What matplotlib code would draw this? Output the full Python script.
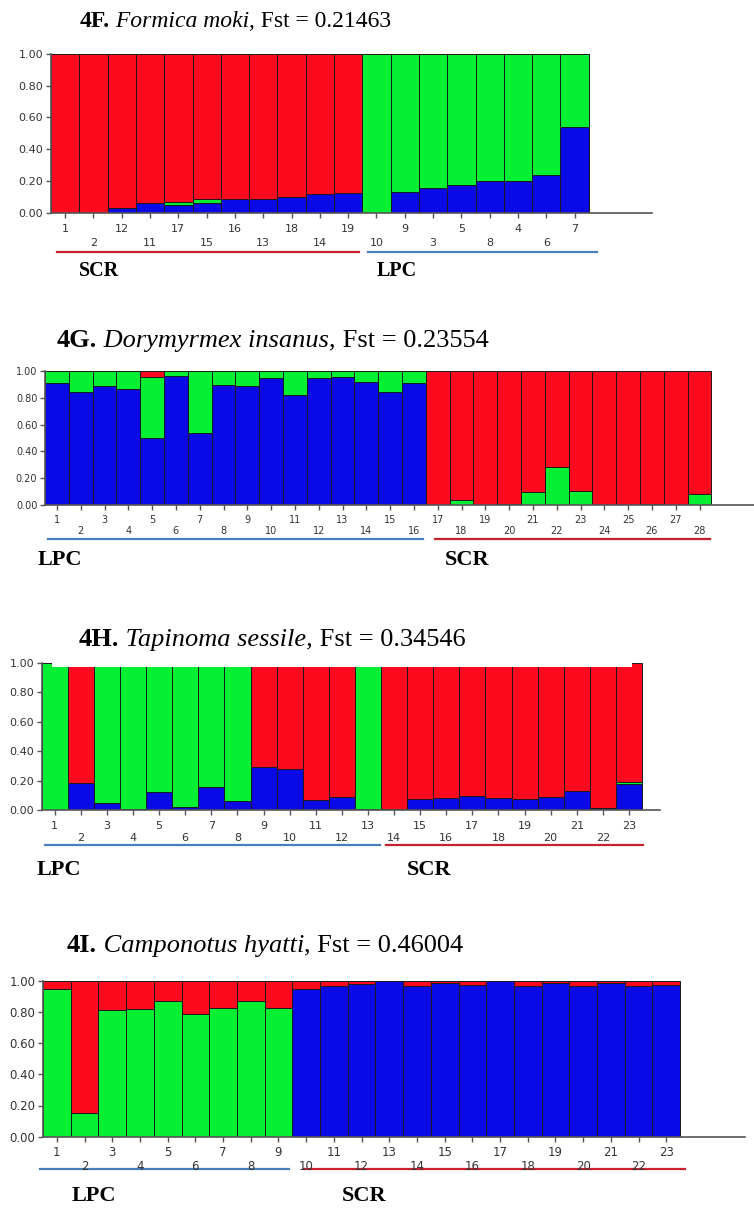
import matplotlib
matplotlib.use("Agg")
import matplotlib.pyplot as plt
from matplotlib import font_manager
from matplotlib.patches import Rectangle
from matplotlib.transforms import blended_transform_factory

# ---------------------------------------------------------------------------
# Data (membership proportions per individual)
# ---------------------------------------------------------------------------

f_ids = ["1", "2", "12", "11", "17", "15", "16", "13", "18", "14", "19",
         "10", "9", "3", "5", "8", "4", "6", "7"]
f_blue = [0, 0, 0.027, 0.058, 0.048, 0.062, 0.084, 0.088, 0.10, 0.12, 0.126,
          0, 0.129, 0.158, 0.175, 0.20, 0.20, 0.238, 0.54]
f_green = [0, 0, 0, 0, 0.017, 0.022, 0, 0, 0, 0, 0,
           1.0, 0.871, 0.842, 0.825, 0.80, 0.80, 0.762, 0.46]
f_red = [1.0, 1.0, 0.973, 0.942, 0.935, 0.916, 0.916, 0.912, 0.90, 0.88, 0.874,
         0, 0, 0, 0, 0, 0, 0, 0]

g_ids = [str(i) for i in range(1, 29)]
g_blue = [0.913, 0.846, 0.888, 0.863, 0.498, 0.963, 0.535, 0.896, 0.89, 0.945,
          0.82, 0.95, 0.953, 0.92, 0.84, 0.908,
          0, 0, 0, 0, 0, 0, 0, 0, 0, 0, 0, 0]
g_green = [0.087, 0.154, 0.112, 0.137, 0.46, 0.037, 0.465, 0.104, 0.11, 0.055,
           0.18, 0.05, 0.047, 0.08, 0.16, 0.092,
           0, 0.037, 0, 0.005, 0.095, 0.286, 0.107, 0, 0, 0.005, 0, 0.082]
g_red = [0, 0, 0, 0, 0.042, 0, 0, 0, 0, 0, 0, 0, 0, 0, 0, 0,
         1.0, 0.963, 1.0, 0.995, 0.905, 0.714, 0.893, 1.0, 1.0, 0.995, 1.0, 0.918]

h_ids = [str(i) for i in range(1, 24)]
h_blue = [0, 0.182, 0.05, 0.007, 0.125, 0.02, 0.155, 0.061, 0.295, 0.277,
          0.068, 0.09, 0.005, 0.005, 0.075, 0.084, 0.098, 0.08, 0.075, 0.086,
          0.127, 0.011, 0.175]
h_green = [1.0, 0, 0.95, 0.993, 0.875, 0.98, 0.845, 0.939, 0, 0,
           0, 0, 0.995, 0, 0, 0, 0, 0, 0, 0,
           0, 0, 0.014]
h_red = [0, 0.818, 0, 0, 0, 0, 0, 0, 0.705, 0.723,
         0.932, 0.91, 0, 0.995, 0.925, 0.916, 0.902, 0.92, 0.925, 0.914,
         0.873, 0.989, 0.811]

i_ids = [str(i) for i in range(1, 24)]
i_blue = [0, 0, 0, 0, 0, 0, 0, 0, 0,
          0.95, 0.968, 0.98, 0.996, 0.965, 0.987, 0.972, 0.996, 0.968, 0.983,
          0.965, 0.987, 0.965, 0.972]
i_green = [0.95, 0.155, 0.814, 0.82, 0.87, 0.788, 0.825, 0.87, 0.825,
           0, 0, 0, 0, 0, 0, 0, 0, 0, 0, 0, 0, 0, 0]
i_red = [0.05, 0.845, 0.186, 0.18, 0.13, 0.212, 0.175, 0.13, 0.175,
         0.05, 0.032, 0.02, 0.004, 0.035, 0.013, 0.028, 0.004, 0.032, 0.017,
         0.035, 0.013, 0.035, 0.028]

# ---------------------------------------------------------------------------
# Layout / style
# ---------------------------------------------------------------------------

WIDTH_PX, HEIGHT_PX = 754, 1210
DPI = 100

RED = "#fe0a1e"
GREEN = "#05f032"
BLUE = "#0a0ae6"
LINE_RED = "#c8202c"
LINE_BLUE = "#4a7ebb"

_available = {f.name for f in font_manager.fontManager.ttflist}
TICK_FONT = "Liberation Sans Narrow" if "Liberation Sans Narrow" in _available else "DejaVu Sans"
SERIF = "Liberation Serif"

PANELS = [
    dict(
        code="4F.", species="Formica moki", fst=", Fst = 0.21463",
        ids=f_ids, blue=f_blue, green=f_green, red=f_red,
        box=(51, 54, 652, 212.7), bar_w=28.3, title_xy=(80, 27), title_size=17,
        tick_size=8.0, rows=(16.5, 30.5), line_y=39.6, label_y=58, label_size=14.5,
        groups=[("SCR", 0, 11, LINE_RED, 0.2, -0.12, 1.0),
                ("LPC", 11, 19, LINE_BLUE, 0.2, 0.29, 0.5)],
    ),
    dict(
        code="4G.", species="Dorymyrmex insanus,", fst=" Fst = 0.23554",
        ids=g_ids, blue=g_blue, green=g_green, red=g_red,
        box=(45, 371, 754, 505), bar_w=23.8, title_xy=(57, 347), title_size=19,
        tick_size=7.0, rows=(15, 26), line_y=33.7, label_y=55, label_size=16,
        groups=[("LPC", 0, 16, LINE_BLUE, 0.13, -0.12, -0.3),
                ("SCR", 16, 28, LINE_RED, 0.39, -0.06, 0.8)],
    ),
    dict(
        code="4H.", species="Tapinoma sessile,", fst=" Fst = 0.34546",
        ids=h_ids, blue=h_blue, green=h_green, red=h_red,
        box=(41.7, 663, 660, 810), bar_w=26.1, title_xy=(79, 646), title_size=19,
        tick_size=8.0, rows=(16, 28), line_y=34.7, label_y=60, label_size=16,
        groups=[("LPC", 0, 13, LINE_BLUE, 0.11, -0.04, -0.2),
                ("SCR", 13, 23, LINE_RED, 0.19, 0.04, 1.0)],
        mask=(0.39, 22.6, 0.975),
    ),
    dict(
        code="4I.", species="Camponotus hyatti", fst=", Fst = 0.46004",
        ids=i_ids, blue=i_blue, green=i_green, red=i_red,
        box=(43, 980.7, 745, 1136.7), bar_w=27.7, title_xy=(67, 951.7), title_size=19,
        tick_size=8.5, rows=(16, 30), line_y=32.6, label_y=59, label_size=16,
        groups=[("LPC", 0, 9, LINE_BLUE, -0.11, -0.12, 1.05),
                ("SCR", 9, 23, LINE_RED, 0.42, 0.18, 1.8)],
    ),
]


def _fx(px):
    return px / WIDTH_PX


def _fy(py):
    return 1 - py / HEIGHT_PX


def _draw_title(fig, panel):
    renderer = fig.canvas.get_renderer()
    x_px, y_px = panel["title_xy"]
    parts = [
        (panel["code"], "bold", "normal"),
        (" " + panel["species"], "normal", "italic"),
        (panel["fst"], "normal", "normal"),
    ]
    for text, weight, style in parts:
        artist = fig.text(_fx(x_px), _fy(y_px), text, fontsize=panel["title_size"],
                          fontweight=weight, fontstyle=style, family=SERIF,
                          ha="left", va="baseline")
        x_px += artist.get_window_extent(renderer).width


def _draw_panel(fig, panel):
    left, top, right, bottom = panel["box"]
    height_px = bottom - top
    ax = fig.add_axes([_fx(left), _fy(bottom), (right - left) / WIDTH_PX,
                       height_px / HEIGHT_PX])
    n = len(panel["ids"])
    positions = [k + 0.5 for k in range(n)]
    bottoms = [0.0] * n
    for values, color in ((panel["blue"], BLUE), (panel["green"], GREEN),
                          (panel["red"], RED)):
        ax.bar(positions, values, width=1.0, bottom=bottoms, color=color,
               edgecolor="#1a1a1a", linewidth=0.7)
        bottoms = [b + v for b, v in zip(bottoms, values)]

    ax.set_xlim(0, (right - left) / panel["bar_w"])
    ax.set_ylim(0, 1)
    for side in ("top", "right"):
        ax.spines[side].set_visible(False)
    for side in ("left", "bottom"):
        ax.spines[side].set_color("#555555")
        ax.spines[side].set_linewidth(1.2)

    ax.set_yticks([0, 0.2, 0.4, 0.6, 0.8, 1.0])
    ax.set_yticklabels(["0.00", "0.20", "0.40", "0.60", "0.80", "1.00"],
                       family=TICK_FONT, fontsize=panel["tick_size"], color="#333333")
    ax.set_xticks(positions)
    ax.tick_params(axis="both", direction="out", length=3.5, width=1.0,
                   color="#555555", pad=2)
    ax.tick_params(axis="x", labelbottom=False)

    trans = blended_transform_factory(ax.transData, ax.transAxes)
    row1, row2 = panel["rows"]
    for k, name in enumerate(panel["ids"]):
        offset = row1 if k % 2 == 0 else row2
        ax.text(positions[k], -offset / height_px, name, transform=trans,
                ha="center", va="center", family=TICK_FONT,
                fontsize=panel["tick_size"], color="#333333")

    line_y = -panel["line_y"] / height_px
    label_y = -panel["label_y"] / height_px
    for name, start, end, color, pad_start, pad_end, label_offset in panel["groups"]:
        ax.plot([start + pad_start, end + pad_end], [line_y, line_y], color=color,
                linewidth=1.6, transform=trans, clip_on=False)
        ax.text(start + label_offset, label_y, name, transform=trans, ha="left",
                va="center", family=SERIF, fontweight="bold",
                fontsize=panel["label_size"])

    if "mask" in panel:
        x0, x1, y0 = panel["mask"]
        ax.add_patch(Rectangle((x0, y0), x1 - x0, 0.1, transform=trans,
                               facecolor="white", edgecolor="none",
                               clip_on=False, zorder=5))


def main():
    fig = plt.figure(figsize=(WIDTH_PX / DPI, HEIGHT_PX / DPI), dpi=DPI)
    for panel in PANELS:
        _draw_panel(fig, panel)
        _draw_title(fig, panel)
    fig.savefig("out.png", dpi=DPI)


if __name__ == "__main__":
    main()
